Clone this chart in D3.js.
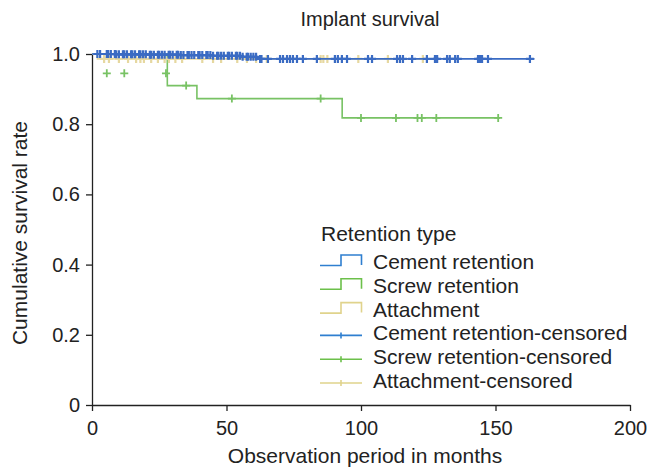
<!DOCTYPE html>
<html>
<head>
<meta charset="utf-8">
<script src="https://cdn.jsdelivr.net/npm/d3@7"></script>
<style>
  body { margin: 0; background: #fff; }
  svg { display: block; font-family: "Liberation Sans", Arial, sans-serif; }
  .axis path, .axis line { stroke: #222; stroke-width: 1.3; }
  .axis text { font-size: 20px; fill: #222; }
</style>
</head>
<body>
<div id="chart"></div>
<script>
// tick values
let xTicks = [0, 50, 100, 150, 200]
let yTicks = [0, 0.2, 0.4, 0.6, 0.8, 1.0]
let yTickLabels = ['0', '0.2', '0.4', '0.6', '0.8', '1.0']

// Kaplan-Meier step curves (time in months, cumulative survival)
let cementTimes = [0, 9, 21, 33, 45, 56, 62]
let cementSurv = [1, 0.999, 0.998, 0.997, 0.995, 0.992, 0.986]
let cementEnd = 164.5
let cementCensored = [2, 3, 5.5, 6, 7, 8.5, 9, 10, 11.5, 12, 13, 14.5, 15, 16, 17.5, 18, 19, 20, 21.5,
    22, 23, 24.5, 25, 26, 27, 28.5, 29, 30, 31.5, 32, 33, 34, 35.5, 36, 37, 38, 39.5, 40, 41,
    42.5, 43, 44, 45, 46.5, 47, 48, 49, 50.5, 51, 52, 53.5, 54, 55, 56, 57.5, 58, 59, 60, 61,
    62.5, 63, 65.4, 69.9, 71, 72.5, 73.6, 74.7, 76.2, 78.4, 83.6, 90.3, 91.4, 92.9, 94.8, 102.6,
    104.1, 113.4, 114.5, 115.6, 119, 124.5, 127.5, 128.3, 132, 133, 135, 136, 143.5, 144.2,
    145, 147.2, 162.8]

let screwTimes = [0, 28, 39, 93]
let screwSurv = [1, 0.91, 0.873, 0.818]
let screwEnd = 151.7
let screwCensored = [5.5, 12, 27.5, 35, 52, 85, 100, 113, 121, 122.6, 128, 151]
let screwCensoredSurv = [0.945, 0.945, 0.945, 0.91, 0.873, 0.873, 0.818, 0.818, 0.818, 0.818, 0.818, 0.818]

let attachTimes = [0, 2]
let attachSurv = [1, 0.986]
let attachEnd = 125
let attachCensored = [4.5, 6.3, 10, 13.4, 16.4, 18, 19.3, 22, 24.5, 27, 28.6, 31, 33.5, 41, 45, 48,
    54, 57.6, 61, 65, 85, 86, 87.5, 99, 110, 123]

let legendNames = ['Cement retention', 'Screw retention', 'Attachment',
    'Cement retention-censored', 'Screw retention-censored', 'Attachment-censored']

let blue = '#3a6bc3', green = '#78c264', yellow = '#e6d8a0'
let legendColors = ['#2f7fd0', '#6cc04a', '#e0d38c']

let svg = d3.select('#chart')
    .append('svg')
    .attr('width', 651)
    .attr('height', 469)

let xScale = d3.scaleLinear().domain([0, 200]).range([92, 630])
let yScale = d3.scaleLinear().domain([0, 1]).range([405, 54])

let xAxis = d3.axisBottom(xScale).tickValues(xTicks).tickSize(6).tickSizeOuter(0).tickPadding(5)
let yAxis = d3.axisLeft(yScale).tickValues(yTicks).tickSize(6).tickSizeOuter(0).tickPadding(6)
    .tickFormat((d, i) => yTickLabels[i])

svg.append('g')
    .attr('class', 'axis')
    .attr('transform', 'translate(0,405)')
    .call(xAxis)
    .selectAll('text').attr('dy', '0.95em')

svg.append('g')
    .attr('class', 'axis')
    .attr('transform', 'translate(92,0)')
    .call(yAxis)

function stepPoints(times, surv, end) {
    let pts = []
    times.forEach((t, i) => {
        if (i > 0) pts.push([t, surv[i - 1]])
        pts.push([t, surv[i]])
    })
    pts.push([end, surv[surv.length - 1]])
    return pts
}

function survAt(times, surv, t) {
    let s = surv[0]
    times.forEach((tt, i) => { if (tt <= t) s = surv[i] })
    return s
}

let line = d3.line().x(d => xScale(d[0])).y(d => yScale(d[1]))

let curves = [
    { pts: stepPoints(screwTimes, screwSurv, screwEnd), color: green, w: 1.8,
      cens: screwCensored.map((t, i) => [t, screwCensoredSurv[i]]) },
    { pts: stepPoints(attachTimes, attachSurv, attachEnd), color: yellow, w: 2.2,
      cens: attachCensored.map(t => [t, survAt(attachTimes, attachSurv, t)]) },
    { pts: stepPoints(cementTimes, cementSurv, cementEnd), color: blue, w: 2.2,
      cens: cementCensored.map(t => [t, survAt(cementTimes, cementSurv, t)]) }
]

let plus = 4
curves.forEach(c => {
    svg.append('path')
        .attr('d', line(c.pts))
        .attr('fill', 'none')
        .attr('stroke', c.color)
        .attr('stroke-width', 1.6)

    let g = svg.append('g')
    g.selectAll('.cv')
        .data(c.cens)
        .enter()
        .append('path')
        .attr('d', d => {
            let x = xScale(d[0]), y = yScale(d[1])
            return `M${x},${y - plus}V${y + plus}M${x - plus},${y}H${x + plus}`
        })
        .attr('stroke', c.color)
        .attr('stroke-width', c.w)
})

// title and axis titles
svg.append('text')
    .attr('x', 370).attr('y', 26)
    .attr('text-anchor', 'middle')
    .attr('font-size', 20)
    .attr('fill', '#222')
    .text('Implant survival')

svg.append('text')
    .attr('transform', 'translate(27,233) rotate(-90)')
    .attr('text-anchor', 'middle')
    .attr('font-size', 21)
    .attr('fill', '#222')
    .text('Cumulative survival rate')

svg.append('text')
    .attr('x', 365).attr('y', 463)
    .attr('text-anchor', 'middle')
    .attr('font-size', 21)
    .attr('fill', '#222')
    .text('Observation period in months')

// legend
let lg = svg.append('g')
lg.append('text')
    .attr('x', 321).attr('y', 241)
    .attr('font-size', 21)
    .attr('fill', '#222')
    .text('Retention type')

let items = lg.selectAll('.item')
    .data(legendNames)
    .enter()
    .append('g')
    .attr('class', 'item')
    .attr('transform', (d, i) => `translate(0,${269 + i * 23.8})`)

items.append('path')
    .attr('d', (d, i) => i < 3
        ? 'M320,-3.5H341V-14H361.5V-4'
        : 'M320,-5H362M341,-8V-2')
    .attr('fill', 'none')
    .attr('stroke', (d, i) => legendColors[i % 3])
    .attr('stroke-width', 1.6)

items.append('text')
    .attr('x', 373).attr('y', 0)
    .attr('font-size', 21)
    .attr('fill', '#222')
    .text(d => d)
</script>
</body>
</html>
